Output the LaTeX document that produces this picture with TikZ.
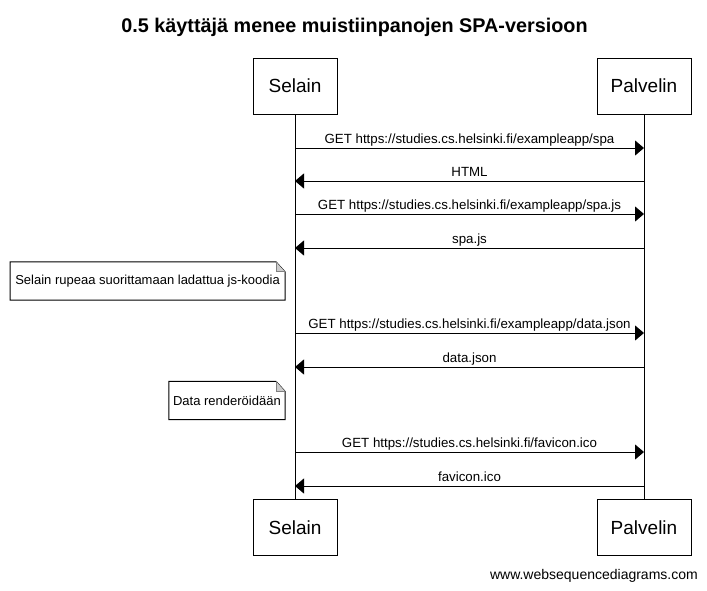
\documentclass[tikz,border=0pt]{standalone}
\usepackage{fontspec}
\setmainfont{Liberation Sans}
\usetikzlibrary{arrows.meta}
\tikzset{
  actor/.style={draw, line width=1pt, minimum width=84pt, minimum height=56pt, inner sep=0pt, font=\fontsize{19}{22}\selectfont},
  msg/.style={line width=1pt, -{Triangle[length=9pt,width=15pt]}},
  lbl/.style={inner sep=0pt, anchor=base, yshift=5pt, font=\fontsize{13.3}{15}\selectfont},
  lifeline/.style={line width=1pt},
  notebox/.style={inner xsep=5pt, inner ysep=0pt, minimum height=38pt, anchor=east, font=\fontsize{13}{15}\selectfont},
}
\newcommand{\notefold}[1]{%
  \draw[line width=1pt] (#1.south west) -- (#1.north west) -- ([xshift=-9pt]#1.north east) -- ([yshift=-10pt]#1.north east) -- (#1.south east) -- cycle;
  \fill[gray!40] ([xshift=-9pt]#1.north east) -- ([xshift=-9pt,yshift=-10pt]#1.north east) -- ([yshift=-10pt]#1.north east) -- cycle;
  \draw[line width=0.7pt, gray] ([xshift=-9pt]#1.north east) -- ([xshift=-9pt,yshift=-10pt]#1.north east) -- ([yshift=-10pt]#1.north east);
}
\begin{document}
\begin{tikzpicture}[x=1pt, y=-1pt]
\useasboundingbox (0,0) rectangle (707,590);
\node[inner sep=0pt, anchor=base, font=\bfseries\fontsize{19.8}{22}\selectfont] (title) at (354.5,32) {0.5 käyttäjä menee muistiinpanojen SPA-versioon};

\node[actor] (s1) at (295,86) {Selain};
\node[actor, minimum width=94pt] (p1) at (644,86) {Palvelin};
\node[actor] (s2) at (295,527.5) {Selain};
\node[actor, minimum width=94pt] (p2) at (644,527.5) {Palvelin};
\draw[lifeline] (s1.south) -- (s2.north);
\draw[lifeline] (p1.south) -- (p2.north);

% message anchors
\foreach \n/\y in {1/148, 2/181, 3/214, 4/248, 5/333, 6/367, 7/452, 8/486} {
  \coordinate (s\n) at (295,\y);
  \coordinate (p\n) at (644,\y);
}
\draw[msg] (s1) -- (p1) node[lbl, midway] (m1) {GET https://studies.cs.helsinki.fi/exampleapp/spa};
\draw[msg] (p2) -- (s2) node[lbl, midway] (m2) {HTML};
\draw[msg] (s3) -- (p3) node[lbl, midway] (m3) {GET https://studies.cs.helsinki.fi/exampleapp/spa.js};
\draw[msg] (p4) -- (s4) node[lbl, midway] (m4) {spa.js};
\draw[msg] (s5) -- (p5) node[lbl, midway] (m5) {GET https://studies.cs.helsinki.fi/exampleapp/data.json};
\draw[msg] (p6) -- (s6) node[lbl, midway] (m6) {data.json};
\draw[msg] (s7) -- (p7) node[lbl, midway] (m7) {GET https://studies.cs.helsinki.fi/favicon.ico};
\draw[msg] (p8) -- (s8) node[lbl, midway] (m8) {favicon.ico};

\node[notebox] (n1) at (285,281) {Selain rupeaa suorittamaan ladattua js-koodia};
\notefold{n1}
\node[notebox, inner xsep=4pt] (n2) at (285,400.5) {Data renderöidään};
\notefold{n2}

\node[inner sep=0pt, anchor=base east, font=\fontsize{14}{16}\selectfont] (footer) at (698,579) {www.websequencediagrams.com};
\end{tikzpicture}
\end{document}
